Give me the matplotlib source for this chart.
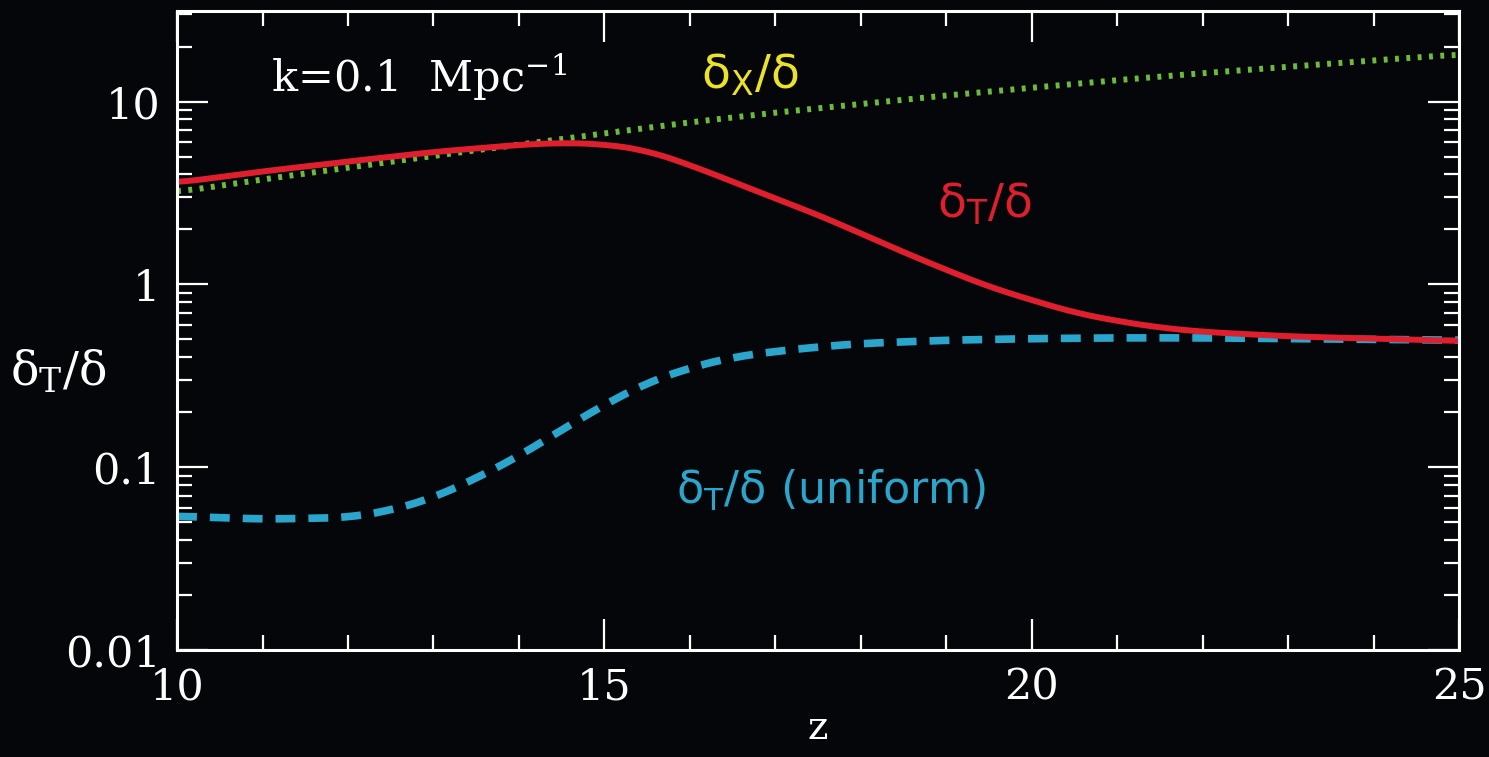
import numpy as np
import matplotlib
matplotlib.use("Agg")
import matplotlib.pyplot as plt
from matplotlib.ticker import LogLocator, MultipleLocator, FixedLocator, FixedFormatter

# redshift samples
z_red = [10, 11, 12, 13, 14, 14.5, 15, 15.5, 16, 16.5, 17, 17.5, 18, 18.5, 19,
         19.5, 20, 20.5, 21, 21.5, 22, 23, 24, 25]
dT_red = [3.6, 4.15, 4.7, 5.3, 5.8, 5.95, 5.85, 5.4, 4.5, 3.65, 2.95, 2.4, 1.9, 1.5,
          1.2, 0.97, 0.82, 0.70, 0.63, 0.58, 0.55, 0.52, 0.505, 0.49]

z_uni = [10, 11, 12, 12.5, 13, 13.5, 14, 14.5, 15, 15.5, 16, 16.5, 17, 17.5, 18,
         19, 20, 21, 22, 23, 24, 25]
dT_uni = [0.054, 0.052, 0.053, 0.058, 0.068, 0.087, 0.115, 0.16, 0.22, 0.29, 0.35,
          0.40, 0.43, 0.455, 0.475, 0.495, 0.505, 0.51, 0.51, 0.505, 0.50, 0.495]

z_x = [10, 11, 12, 13, 14, 15, 16, 17, 18, 19, 20, 21, 22, 23, 24, 25]
dX = [3.2, 3.75, 4.35, 5.05, 5.8, 6.7, 7.7, 8.7, 9.7, 10.8, 11.9, 13.1, 14.3,
      15.5, 16.8, 18.1]

yticks = [0.01, 0.1, 1, 10]
ytick_labels = ["0.01", "0.1", "1", "10"]
xticks = [10, 15, 20, 25]

bg = "#040609"
c_red = "#e01f2e"
c_blue = "#2aa6cc"
c_green = "#6dbb3c"
c_yellow = "#ece227"

# smooth the hand-picked samples in log space
def smooth(zs, vs):
    zz = np.linspace(zs[0], zs[-1], 600)
    lv = np.interp(zz, zs, np.log10(vs))
    k = np.ones(25) / 25
    pad = np.concatenate([np.full(12, lv[0]), lv, np.full(12, lv[-1])])
    lv = np.convolve(pad, k, mode="valid")
    return zz, 10 ** lv

fig = plt.figure(figsize=(14.89, 7.57), dpi=100, facecolor=bg)
ax = fig.add_axes([0.1189, 0.1413, 0.861, 0.8442], facecolor=bg)

zz, vv = smooth(z_x, dX)
ax.plot(zz, vv, color=c_green, lw=4.3, linestyle=(0, (0.65, 1.25)), solid_capstyle="butt")
zz, vv = smooth(z_uni, dT_uni)
ax.plot(zz, vv, color=c_blue, lw=5.5, linestyle=(0, (2.6, 1.7)), dash_capstyle="butt")
zz, vv = smooth(z_red, dT_red)
ax.plot(zz, vv, color=c_red, lw=4.3, solid_capstyle="butt")

ax.set_yscale("log")
ax.set_xlim(10, 25)
ax.set_ylim(0.01, 31.3)

ax.xaxis.set_major_locator(FixedLocator(xticks))
ax.xaxis.set_minor_locator(MultipleLocator(1))
ax.yaxis.set_major_locator(FixedLocator(yticks))
ax.yaxis.set_major_formatter(FixedFormatter(ytick_labels))
ax.yaxis.set_minor_locator(LogLocator(base=10, subs=np.arange(2, 10)))
ax.yaxis.set_minor_formatter(plt.NullFormatter())

for sp in ax.spines.values():
    sp.set_color("white")
    sp.set_linewidth(2.2)
ax.tick_params(which="both", direction="in", top=True, right=True, colors="white",
               width=1.6)
ax.tick_params(which="major", length=22, labelsize=31, pad=12)
ax.tick_params(which="minor", length=11)
for lab in ax.get_xticklabels() + ax.get_yticklabels():
    lab.set_family("DejaVu Serif")

ax.set_xlabel("z", color="white", fontsize=28, family="DejaVu Serif", labelpad=1)
ax.set_ylabel(r"δ$_\mathregular{T}$/δ", color="white", fontsize=34, rotation=0,
              family="DejaVu Serif", labelpad=20, va="center")
ax.yaxis.set_label_coords(-0.093, 0.435)

ax.text(11.1, 13.5, r"k=0.1  Mpc$^{\mathregular{-1}}$", color="white", fontsize=31,
        family="DejaVu Serif", va="center", ha="left")
ax.text(16.7, 14.0, r"δ$_\mathregular{X}$/δ", color=c_yellow, fontsize=34,
        family="DejaVu Sans", va="center", ha="center")
ax.text(19.45, 2.73, r"δ$_\mathregular{T}$/δ", color=c_red, fontsize=34,
        family="DejaVu Sans", va="center", ha="center")
ax.text(17.65, 0.075, r"δ$_\mathregular{T}$/δ (uniform)", color=c_blue, fontsize=32,
        family="DejaVu Sans", va="center", ha="center")

fig.savefig("out.png", dpi=100, facecolor=bg)
